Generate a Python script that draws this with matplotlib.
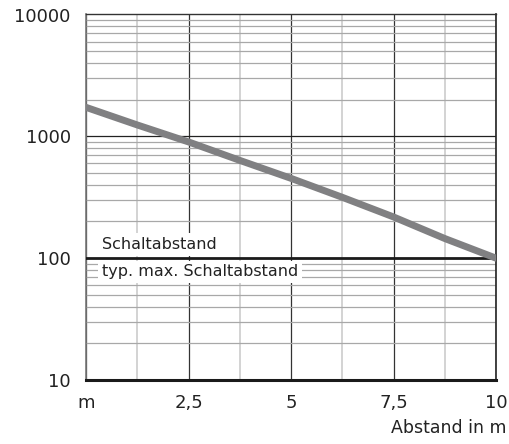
import matplotlib
matplotlib.use('Agg')
import matplotlib.pyplot as plt
from matplotlib.ticker import FixedLocator, LogLocator, NullFormatter

# Data
abstand = [0, 1.25, 2.5, 3.75, 5, 6.25, 7.5, 8.75, 10]
wert = [1730, 1240, 900, 635, 452, 316, 218, 145, 100]

x_ticks = [0, 2.5, 5, 7.5, 10]
x_labels = ['m', '2,5', '5', '7,5', '10']
x_minor = [1.25, 3.75, 6.25, 8.75]
y_ticks = [10, 100, 1000, 10000]
y_labels = ['10', '100', '1000', '10000']

fig = plt.figure(figsize=(5.1, 4.44), dpi=100)
ax = fig.add_axes([86/510, 64/444, 410/510, 365.5/444])

ax.set_yscale('log')
ax.set_xlim(0, 10)
ax.set_ylim(10, 10000)

ax.set_xticks(x_ticks)
ax.set_xticklabels(x_labels)
ax.xaxis.set_minor_locator(FixedLocator(x_minor))
ax.set_yticks(y_ticks)
ax.set_yticklabels(y_labels)
ax.yaxis.set_minor_locator(LogLocator(base=10, subs=range(2, 10)))
ax.yaxis.set_minor_formatter(NullFormatter())

ax.tick_params(which='both', length=0)
ax.tick_params(axis='y', pad=11, labelsize=13, colors='#222222')
ax.tick_params(axis='x', pad=10, labelsize=13, colors='#222222')

# grid
ax.grid(True, axis='y', which='minor', color='#a8a8a8', linewidth=0.9)
ax.grid(True, axis='x', which='minor', color='#c8c8c8', linewidth=1.1)
ax.grid(True, axis='x', which='major', color='#333333', linewidth=0.9)
ax.axhline(1000, color='#222222', linewidth=0.9, zorder=2)
ax.axhline(100, color='#1a1a1a', linewidth=2.0, zorder=4)

for s in ['left']:
    ax.spines[s].set_color('#777777')
    ax.spines[s].set_linewidth(1.2)
ax.spines['top'].set_color('#333333')
ax.spines['top'].set_linewidth(1.0)
ax.spines['right'].set_color('#222222')
ax.spines['right'].set_linewidth(1.2)
ax.spines['bottom'].set_color('#1a1a1a')
ax.spines['bottom'].set_linewidth(2.2)

# curve
ax.plot(abstand, wert, color='#808082', linewidth=5, solid_capstyle='round', zorder=5)

# labels inside the chart
ax.text(0.38, 130, 'Schaltabstand', fontsize=11.5, color='#222222', va='center', ha='left',
        zorder=3, bbox=dict(boxstyle='square,pad=0.25', facecolor='white', edgecolor='none'))
ax.text(0.38, 77, 'typ. max. Schaltabstand', fontsize=11.5, color='#222222', va='center', ha='left',
        zorder=3, bbox=dict(boxstyle='square,pad=0.25', facecolor='white', edgecolor='none'))

fig.text(507/510, 16/444, 'Abstand in m', fontsize=12.5, color='#222222', ha='right', va='center')

plt.savefig('out.png', dpi=100)
